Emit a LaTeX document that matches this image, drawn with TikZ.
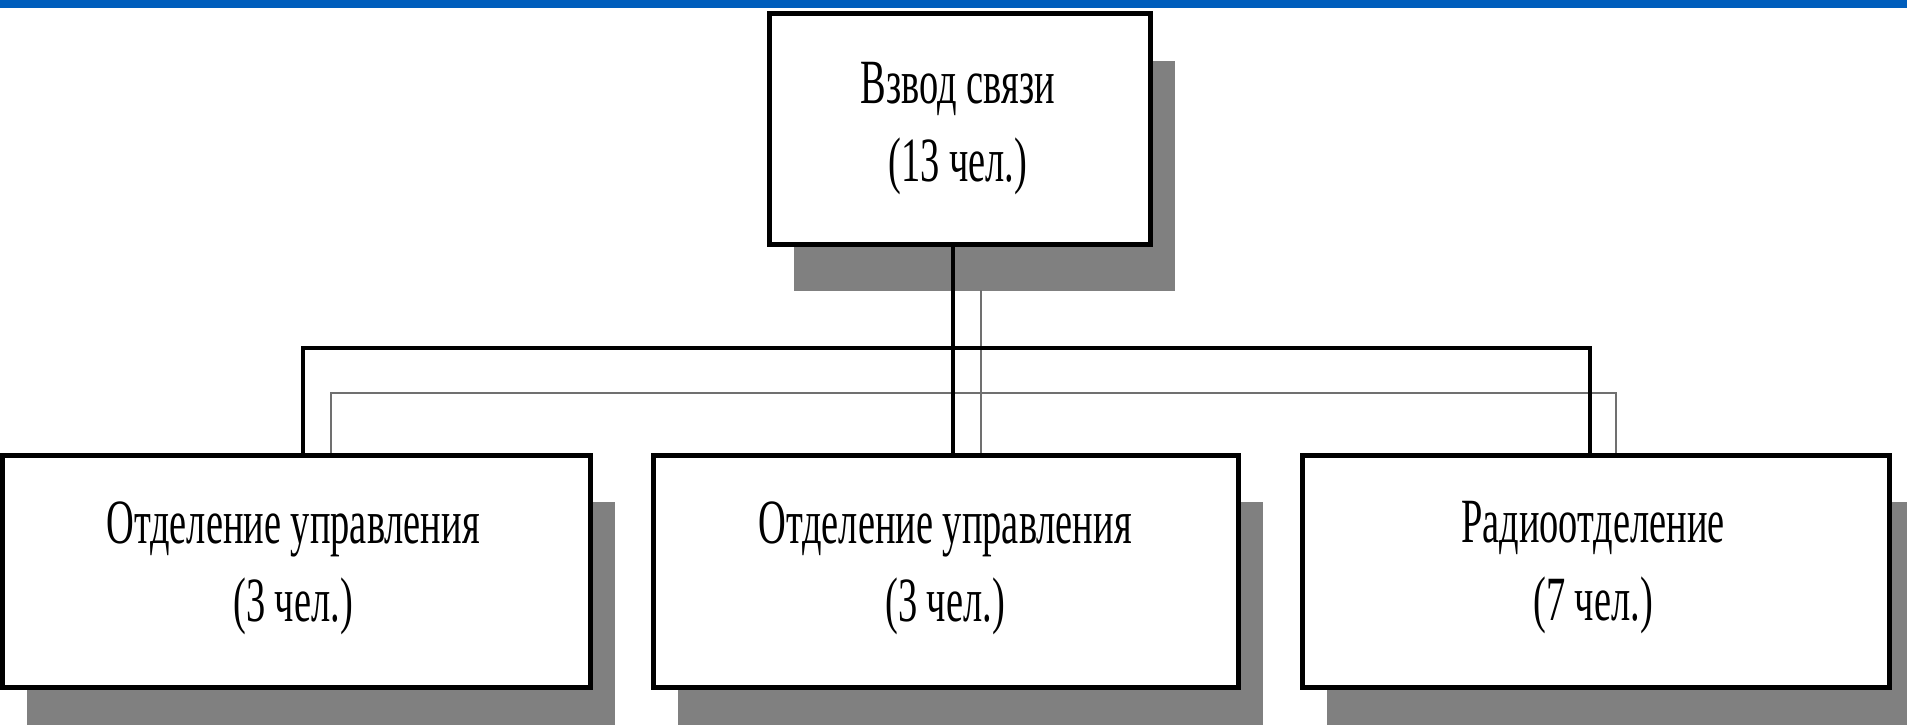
\documentclass[tikz,border=0pt]{standalone}
\usepackage{fontspec}
\usetikzlibrary{shadows}
\newfontfamily\boxfont[FakeStretch=0.61]{Liberation Serif}
\definecolor{barblue}{RGB}{0,94,188}
\definecolor{shadowgray}{RGB}{128,128,128}
\definecolor{linegray}{RGB}{112,112,112}
\tikzset{
  unitbox/.style={draw=black, line width=5pt, fill=white, rectangle,
    minimum height=232pt, inner sep=0pt,
    drop shadow={shadow xshift=25pt, shadow yshift=-47pt, fill=shadowgray, opacity=1}},
  lbl/.style={align=center, inner sep=0pt, font=\boxfont\fontsize{63}{78}\selectfont},
  blk/.style={draw=black, line width=3.5pt},
  gry/.style={draw=linegray, line width=2.5pt}
}
\begin{document}
\begin{tikzpicture}[x=1pt, y=-1pt]
\useasboundingbox (0,0) rectangle (1907,725);
\fill[white] (0,0) rectangle (1907,725);

% boxes
\node[unitbox, minimum width=381pt, minimum height=230pt] (top) at (959.5,129) {};
\node[unitbox, minimum width=588pt] (b1) at (296,571) {};
\node[unitbox, minimum width=585pt] (b2) at (945.5,571) {};
\node[unitbox, minimum width=587pt] (b3) at (1595.5,571) {};

% labels
\node[lbl] (ttop) at (958,129) {Взвод связи\\(13 чел.)};
\node[lbl] (tb1) at (293,568) {Отделение управления\\(3 чел.)};
\node[lbl] (tb2) at (945,568) {Отделение управления\\(3 чел.)};
\node[lbl] (tb3) at (1593,568) {Радиоотделение\\(7 чел.)};

% junction coordinates
\coordinate (bl) at (303,348);
\coordinate (bm) at (953,348);
\coordinate (br) at (1590,348);
\coordinate (gl) at (331,393);
\coordinate (gm) at (981,393);
\coordinate (gr) at (1616,393);
\coordinate (gs) at (981,290);

% gray (shadow) connectors
\draw[gry] (gs) -- (b2.north -| gm);
\draw[gry] (b1.north -| gl) -- (gl) -- (gr) -- (b3.north -| gr);

% black connectors
\draw[blk] (top.south -| bm) -- (b2.north -| bm);
\draw[blk] (b1.north -| bl) -- (bl) -- (br) -- (b3.north -| br);

% top bar
\fill[barblue] (0,0) rectangle (1907,8.5);
\end{tikzpicture}
\end{document}
